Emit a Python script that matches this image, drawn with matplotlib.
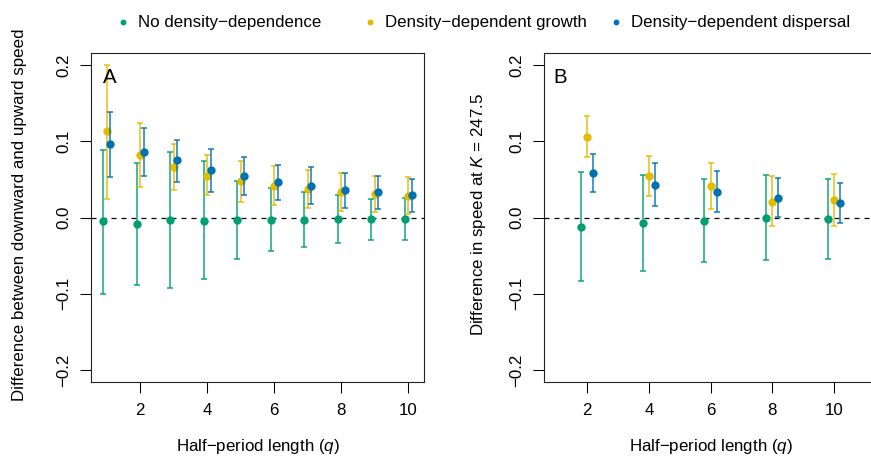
import numpy as np
import matplotlib
matplotlib.use("Agg")
import matplotlib.pyplot as plt
from matplotlib.ticker import FuncFormatter
from matplotlib.lines import Line2D

plt.rcParams['font.family'] = ['Liberation Sans', 'DejaVu Sans']
plt.rcParams['mathtext.fontset'] = 'custom'
plt.rcParams['mathtext.rm'] = 'Liberation Sans'
plt.rcParams['mathtext.it'] = 'Liberation Sans:italic'

# ---- data ----
q_a = np.arange(1, 11)
q_b = np.array([2, 4, 6, 8, 10])

# panel A: difference between downward and upward speed
nodd_a = [-0.005, -0.009, -0.003, -0.004, -0.003, -0.003, -0.003, -0.002, -0.002, -0.002]
nodd_a_lo = [-0.100, -0.089, -0.092, -0.081, -0.054, -0.044, -0.039, -0.033, -0.029, -0.030]
nodd_a_hi = [0.089, 0.072, 0.086, 0.074, 0.048, 0.039, 0.033, 0.029, 0.024, 0.026]

grow_a = [0.113, 0.082, 0.066, 0.055, 0.048, 0.041, 0.037, 0.033, 0.031, 0.028]
grow_a_lo = [0.024, 0.040, 0.036, 0.029, 0.021, 0.017, 0.012, 0.008, 0.007, 0.005]
grow_a_hi = [0.200, 0.124, 0.097, 0.082, 0.074, 0.067, 0.063, 0.059, 0.055, 0.053]

disp_a = [0.096, 0.086, 0.075, 0.062, 0.055, 0.047, 0.042, 0.036, 0.033, 0.029]
disp_a_lo = [0.053, 0.054, 0.047, 0.034, 0.029, 0.023, 0.018, 0.013, 0.011, 0.007]
disp_a_hi = [0.139, 0.117, 0.102, 0.090, 0.080, 0.069, 0.066, 0.059, 0.055, 0.051]

# panel B: difference in speed at K = 247.5
nodd_b = [-0.012, -0.007, -0.004, 0.000, -0.002]
nodd_b_lo = [-0.083, -0.070, -0.058, -0.056, -0.055]
nodd_b_hi = [0.060, 0.056, 0.050, 0.056, 0.050]

grow_b = [0.106, 0.054, 0.042, 0.021, 0.023]
grow_b_lo = [0.079, 0.028, 0.011, -0.011, -0.011]
grow_b_hi = [0.133, 0.081, 0.072, 0.054, 0.057]

disp_b = [0.058, 0.043, 0.034, 0.026, 0.019]
disp_b_lo = [0.033, 0.015, 0.007, 0.001, -0.007]
disp_b_hi = [0.083, 0.071, 0.061, 0.052, 0.045]

labels = ['No density\u2212dependence', 'Density\u2212dependent growth',
          'Density\u2212dependent dispersal']
colors = ['#009E73', '#E3BC00', '#0072B2']

W, H = 871, 457
FS = 12.2
fig = plt.figure(figsize=(W / 100, H / 100), dpi=100)


def px_axes(l, t, r, b):
    return fig.add_axes([l / W, 1 - b / H, (r - l) / W, (b - t) / H])


def series(ax, x, y, lo, hi, col):
    y = np.array(y)
    err = [y - np.array(lo), np.array(hi) - y]
    ax.errorbar(x, y, yerr=err, fmt='none', ecolor=col, elinewidth=1.2,
                capsize=1.9, capthick=1.2, alpha=0.85)
    ax.plot(x, y, 'o', color=col, markersize=6, markeredgewidth=0)


def style(ax, xlim):
    ax.set_xlim(*xlim)
    ax.set_ylim(-0.216, 0.216)
    ax.axhline(0, color='black', lw=0.9, ls=(0, (4, 4)), zorder=0)
    ax.set_xticks([2, 4, 6, 8, 10])
    ax.set_yticks([-0.2, -0.1, 0.0, 0.1, 0.2])
    ax.yaxis.set_major_formatter(FuncFormatter(
        lambda v, p: f'{round(v, 2):.1f}'.replace('-', '\u2212')))
    ax.tick_params(direction='out', length=7.9, width=0.75, labelsize=FS)
    ax.tick_params(axis='x', pad=7)
    ax.tick_params(axis='y', pad=6)
    for t in ax.get_yticklabels():
        t.set_rotation(90)
        t.set_va('center')
    for s in ax.spines.values():
        s.set_linewidth(0.8)
        s.set_color('#222222')


axA = px_axes(91, 53, 424, 382)
series(axA, q_a - 0.1, nodd_a, nodd_a_lo, nodd_a_hi, colors[0])
series(axA, q_a, grow_a, grow_a_lo, grow_a_hi, colors[1])
series(axA, q_a + 0.1, disp_a, disp_a_lo, disp_a_hi, colors[2])
style(axA, (0.532, 10.468))
axA.text(0.035, 0.955, 'A', transform=axA.transAxes, fontsize=14.7,
         ha='left', va='top')

axB = px_axes(544, 53, 877, 382)
series(axB, q_b - 0.2, nodd_b, nodd_b_lo, nodd_b_hi, colors[0])
series(axB, q_b, grow_b, grow_b_lo, grow_b_hi, colors[1])
series(axB, q_b + 0.2, disp_b, disp_b_lo, disp_b_hi, colors[2])
style(axB, (0.6, 11.4))
axB.text(0.028, 0.955, 'B', transform=axB.transAxes, fontsize=14.7,
         ha='left', va='top')

# axis labels
fig.text(257.5 / W, 1 - 447 / H, 'Half\u2212period length ($q$)', fontsize=FS,
         ha='center', va='center')
fig.text(710.5 / W, 1 - 447 / H, 'Half\u2212period length ($q$)', fontsize=FS,
         ha='center', va='center')
fig.text(20 / W, 1 - 215 / H, 'Difference between downward and upward speed',
         fontsize=FS, rotation=90, ha='center', va='center')
fig.text(478 / W, 1 - 215 / H, 'Difference in speed at $K$ = 247.5',
         fontsize=FS, rotation=90, ha='center', va='center')

# legend across the top
leg_x = [123, 370, 615.6]
for xd, lab, col in zip(leg_x, labels, colors):
    fig.add_artist(Line2D([xd / W], [1 - 22 / H], marker='o', color=col,
                          markersize=4.2, markeredgewidth=0,
                          transform=fig.transFigure))
    fig.text((xd + 15) / W, 1 - 22 / H, lab, fontsize=FS, ha='left',
             va='center')

fig.savefig('out.png', dpi=100)
